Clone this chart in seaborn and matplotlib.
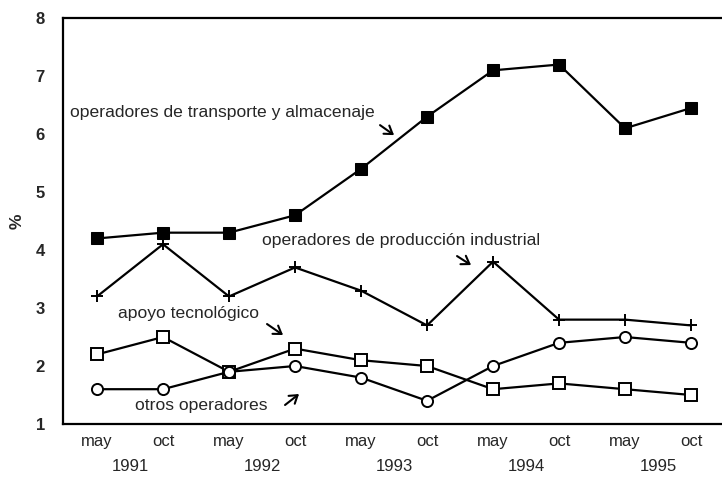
import matplotlib
matplotlib.use("Agg")
import matplotlib.pyplot as plt
import seaborn as sns
import pandas as pd
import numpy as np

periods = ["may", "oct", "may", "oct", "may", "oct", "may", "oct", "may", "oct"]
years = ["1991", "1992", "1993", "1994", "1995"]

transporte = [4.2, 4.3, 4.3, 4.6, 5.4, 6.3, 7.1, 7.2, 6.1, 6.45]
produccion = [3.2, 4.1, 3.2, 3.7, 3.3, 2.7, 3.8, 2.8, 2.8, 2.7]
apoyo = [2.2, 2.5, 1.9, 2.3, 2.1, 2.0, 1.6, 1.7, 1.6, 1.5]
otros = [1.6, 1.6, 1.9, 2.0, 1.8, 1.4, 2.0, 2.4, 2.5, 2.4]

sns.set_theme(style="white")
plt.rcParams['font.family'] = ['Liberation Sans', 'DejaVu Sans']

fig = plt.figure(figsize=(7.22, 4.78), dpi=100)
ax = fig.add_axes([0.0873, 0.113, 0.9247, 0.849])

x = np.arange(len(periods))
series = [
    (transporte, dict(marker="s", markersize=9, markerfacecolor="black", markeredgecolor="black")),
    (produccion, dict(marker="+", markersize=9, markeredgewidth=1.4, markeredgecolor="black")),
    (apoyo, dict(marker="s", markersize=8, markerfacecolor="white", markeredgecolor="black", markeredgewidth=1.4)),
    (otros, dict(marker="o", markersize=8, markerfacecolor="white", markeredgecolor="black", markeredgewidth=1.4)),
]
for vals, kw in series:
    df = pd.DataFrame({"x": x, "y": vals})
    sns.lineplot(data=df, x="x", y="y", ax=ax, color="black", linewidth=1.6, **kw)

ax.set_xlim(-0.515, 9.6)
ax.set_ylim(1, 8)
ax.set_yticks(range(1, 9))
ax.set_yticklabels([str(v) for v in range(1, 9)], fontsize=12, fontweight="bold")
ax.set_xticks(x)
ax.set_xticklabels(periods, fontsize=12)
ax.set_xticks(np.arange(0, 10, 2) + 0.5, minor=True)
ax.set_xticklabels(years, minor=True, fontsize=12)
ax.tick_params(axis="x", which="major", length=0, pad=7)
ax.tick_params(axis="x", which="minor", length=0, pad=25)
ax.tick_params(axis="y", length=0, pad=13)
ax.set_xlabel("")
ax.set_ylabel("%", fontsize=12.5, fontweight="bold", labelpad=8)

for side in ["left", "top", "bottom"]:
    ax.spines[side].set_color("black")
    ax.spines[side].set_linewidth(1.6)
ax.spines["right"].set_visible(False)

def px2d(px, py):
    return ((px - 97) / 66.0, 1 + (424 - py) / 58.0)

fs = 12.6
ax.text(*px2d(70, 112), "operadores de transporte y almacenaje", fontsize=fs, va="center", ha="left")
ax.text(*px2d(262, 240), "operadores de producción industrial", fontsize=fs, va="center", ha="left")
ax.text(*px2d(118, 313), "apoyo tecnológico", fontsize=fs, va="center", ha="left")
ax.text(*px2d(135, 406), "otros operadores", fontsize=fs, va="center", ha="left")

arrows = [((380, 125), (394, 135)), ((457, 256), (471, 265)),
          ((267, 324), (283, 335)), ((285, 405), (299, 394))]
for (s, e) in arrows:
    ax.annotate("", xy=px2d(*e), xytext=px2d(*s),
                arrowprops=dict(arrowstyle="->,head_length=0.45,head_width=0.3",
                                color="black", lw=1.5, shrinkA=0, shrinkB=0))

fig.savefig("out.png", dpi=100)
